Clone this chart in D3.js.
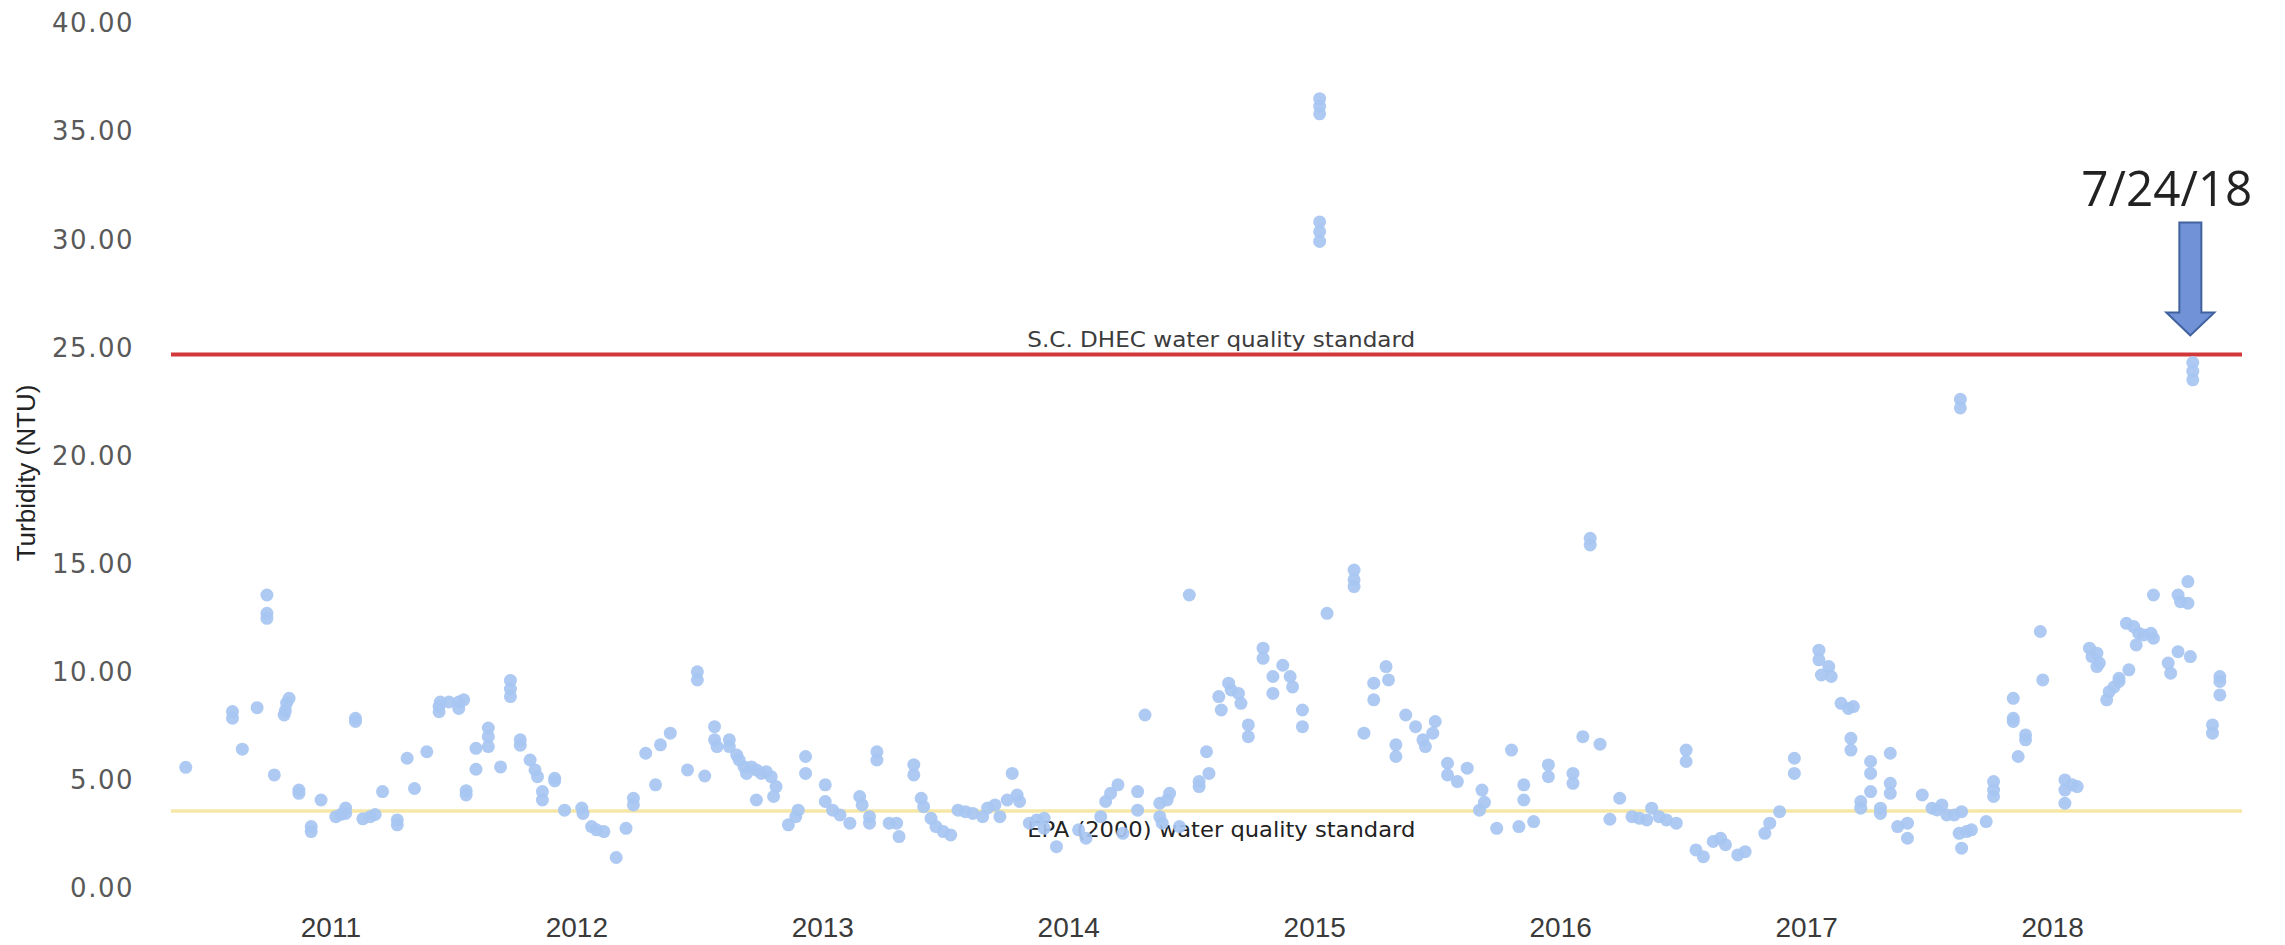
<!DOCTYPE html>
<html>
<head>
<meta charset="utf-8">
<script src="https://cdn.jsdelivr.net/npm/d3@7"></script>
<style>
  html, body { margin: 0; padding: 0; background: #fff; }
  svg { display: block; }
</style>
</head>
<body>
<svg id="chart" width="2285" height="945"></svg>
<script>
// sample dates as decimal years, turbidity in NTU
const sampleYear = [
  2010.41, 2010.60, 2010.60, 2010.64, 2010.70, 2010.74, 2010.74, 2010.74, 2010.77, 2010.81,
  2010.815, 2010.82, 2010.83, 2010.87, 2010.87, 2010.92, 2010.92, 2010.96, 2011.02, 2011.04,
  2011.06, 2011.06, 2011.10, 2011.10, 2011.13, 2011.16, 2011.18, 2011.21, 2011.27, 2011.27,
  2011.31, 2011.34, 2011.39, 2011.44, 2011.445, 2011.48, 2011.52, 2011.52, 2011.44, 2011.55,
  2011.55, 2011.54,
  2011.59, 2011.59, 2011.64, 2011.64, 2011.64, 2011.69, 2011.73, 2011.73, 2011.73, 2011.77,
  2011.77, 2011.81, 2011.83, 2011.84, 2011.86, 2011.86, 2011.91, 2011.91, 2011.95, 2012.02,
  2012.025, 2012.06, 2012.08, 2012.11, 2012.16, 2012.20, 2012.23, 2012.23, 2012.28, 2012.32,
  2012.34, 2012.38, 2012.45, 2012.49, 2012.49, 2012.52, 2012.56, 2012.56, 2012.57, 2012.62,
  2012.62, 2012.65, 2012.66, 2012.68, 2012.69, 2012.71, 2012.73, 2012.75, 2012.77, 2012.79,
  2012.81, 2012.73, 2012.80, 2012.86, 2012.89, 2012.90, 2012.93, 2012.93,
  2013.01, 2013.01, 2013.04, 2013.07, 2013.11, 2013.15, 2013.16, 2013.19, 2013.19, 2013.22,
  2013.22, 2013.27, 2013.30, 2013.31, 2013.37, 2013.37, 2013.40, 2013.41, 2013.44, 2013.46,
  2013.49, 2013.52, 2013.55, 2013.58, 2013.61, 2013.65, 2013.67, 2013.70, 2013.72, 2013.75,
  2013.77, 2013.79, 2013.80, 2013.84, 2013.87, 2013.90, 2013.90, 2013.95, 2014.04, 2014.07,
  2014.13, 2014.15, 2014.17, 2014.20, 2014.22, 2014.28, 2014.28, 2014.31,
  2014.37, 2014.40, 2014.41, 2014.37, 2014.38, 2014.45, 2014.49, 2014.53, 2014.53, 2014.57,
  2014.56, 2014.61, 2014.62, 2014.65, 2014.66, 2014.69, 2014.70, 2014.73, 2014.73, 2014.79,
  2014.79, 2014.83, 2014.83, 2014.87, 2014.90, 2014.91, 2014.95, 2014.95, 2015.02, 2015.02,
  2015.02, 2015.02, 2015.02, 2015.02, 2015.05, 2015.16, 2015.16, 2015.16, 2015.20, 2015.24,
  2015.24, 2015.29, 2015.30, 2015.33, 2015.33, 2015.37, 2015.41, 2015.44, 2015.45, 2015.49,
  2015.48, 2015.54, 2015.54, 2015.58, 2015.62, 2015.68, 2015.67,
  2015.69, 2015.74, 2015.80, 2015.83, 2015.85, 2015.85, 2015.89, 2015.95, 2015.95, 2016.05,
  2016.05, 2016.09, 2016.12, 2016.12, 2016.16, 2016.20, 2016.24, 2016.29, 2016.32, 2016.35,
  2016.37, 2016.40, 2016.43, 2016.47, 2016.51, 2016.51, 2016.55, 2016.58, 2016.62, 2016.65,
  2016.67, 2016.72, 2016.75, 2016.83, 2016.85, 2016.89, 2016.95, 2016.95, 2017.05, 2017.05,
  2017.06,
  2017.09, 2017.10, 2017.14, 2017.17, 2017.19, 2017.18, 2017.18, 2017.22, 2017.22, 2017.26,
  2017.26, 2017.26, 2017.30, 2017.30, 2017.34, 2017.34, 2017.34, 2017.37, 2017.41, 2017.41,
  2017.47, 2017.51, 2017.53, 2017.55, 2017.57, 2017.60, 2017.63, 2017.62, 2017.65, 2017.67,
  2017.63, 2017.625, 2017.625, 2017.73, 2017.76, 2017.76, 2017.76, 2017.84, 2017.84, 2017.84,
  2017.86, 2017.89, 2017.89, 2017.95, 2017.96, 2018.05, 2018.05, 2018.05, 2018.08, 2018.10,
  2018.15, 2018.16, 2018.18, 2018.19, 2018.18, 2018.22, 2018.23, 2018.25, 2018.27, 2018.27,
  2018.31, 2018.30, 2018.33, 2018.35, 2018.37, 2018.40, 2018.41, 2018.34, 2018.41, 2018.47,
  2018.48, 2018.51, 2018.56, 2018.51, 2018.52, 2018.55, 2018.55, 2018.57, 2018.57, 2018.57,
  2018.65, 2018.65, 2018.68, 2018.68, 2018.68
];

const turbidity = [
  5.58, 8.16, 7.85, 6.42, 8.34, 13.55, 12.70, 12.47, 5.23, 8.00,
  8.20, 8.55, 8.77, 4.53, 4.38, 2.84, 2.61, 4.07, 3.30, 3.40,
  3.70, 3.45, 7.85, 7.70, 3.20, 3.30, 3.40, 4.46, 3.15, 2.92,
  6.00, 4.60, 6.30, 8.40, 8.60, 8.60, 8.60, 8.30, 8.15, 4.50,
  4.30, 8.70,
  6.46, 5.49, 7.40, 7.00, 6.54, 5.60, 9.60, 9.20, 8.85, 6.85,
  6.60, 5.92, 5.46, 5.15, 4.46, 4.07, 5.07, 4.95, 3.60, 3.70,
  3.45, 2.84, 2.69, 2.61, 1.41, 2.76, 4.15, 3.84, 6.23, 4.77,
  6.62, 7.16, 5.46, 10.00, 9.62, 5.18, 7.46, 6.85, 6.54, 6.85,
  6.54, 6.15, 5.92, 5.60, 5.30, 5.60, 5.46, 5.30, 5.38, 5.15,
  4.69, 4.07, 4.23, 2.92, 3.30, 3.60, 6.08, 5.30,
  4.77, 4.00, 3.60, 3.38, 3.00, 4.23, 3.84, 3.30, 3.00, 6.30,
  5.92, 3.00, 3.00, 2.38, 5.70, 5.23, 4.15, 3.76, 3.22, 2.84,
  2.61, 2.45, 3.60, 3.53, 3.45, 3.30, 3.70, 3.84, 3.30, 4.07,
  5.30, 4.30, 4.00, 3.00, 3.15, 3.22, 2.76, 1.91, 2.69, 2.30,
  3.30, 4.00, 4.38, 4.77, 2.53, 4.46, 3.60, 8.00,
  3.92, 4.07, 4.38, 3.30, 3.00, 2.84, 13.55, 4.92, 4.69, 5.30,
  6.30, 8.85, 8.23, 9.47, 9.16, 9.00, 8.54, 7.54, 7.00, 11.09,
  10.62, 9.78, 9.00, 10.30, 9.78, 9.30, 8.23, 7.46, 36.50, 36.15,
  35.80, 30.80, 30.35, 29.90, 12.70, 14.70, 14.25, 13.94, 7.16, 9.47,
  8.70, 10.24, 9.62, 6.62, 6.08, 8.00, 7.46, 6.85, 6.54, 7.70,
  7.16, 5.77, 5.23, 4.92, 5.54, 4.53, 3.60,
  3.96, 2.76, 6.38, 2.84, 4.77, 4.07, 3.07, 5.69, 5.15, 5.30,
  4.84, 7.00, 16.17, 15.86, 6.65, 3.18, 4.15, 3.30, 3.22, 3.15,
  3.69, 3.30, 3.15, 3.00, 6.38, 5.85, 1.76, 1.45, 2.15, 2.30,
  2.00, 1.53, 1.68, 2.53, 3.00, 3.53, 6.00, 5.30, 11.00, 10.55,
  9.85,
  10.24, 9.78, 8.54, 8.30, 8.39, 6.92, 6.38, 4.00, 3.69, 5.85,
  5.30, 4.46, 3.69, 3.45, 6.23, 4.84, 4.38, 2.84, 3.00, 2.30,
  4.30, 3.69, 3.61, 3.84, 3.38, 3.38, 3.53, 2.53, 2.61, 2.69,
  1.84, 22.60, 22.20, 3.07, 4.92, 4.53, 4.23, 8.77, 7.85, 7.70,
  6.08, 7.08, 6.85, 11.86, 9.62, 5.00, 4.53, 3.92, 4.77, 4.69,
  11.09, 10.70, 10.86, 10.40, 10.24, 8.70, 9.08, 9.30, 9.55, 9.70,
  10.09, 12.24, 12.09, 11.78, 11.70, 11.78, 11.55, 11.24, 13.55, 10.40,
  9.93, 10.93, 10.70, 13.55, 13.24, 14.17, 13.17, 24.30, 23.90, 23.50,
  7.54, 7.16, 9.78, 9.55, 8.93
];

const yearTicks = [2011, 2012, 2013, 2014, 2015, 2016, 2017, 2018];
const valueTicks = [0, 5, 10, 15, 20, 25, 30, 35, 40];

const standardNames = ["S.C. DHEC water quality standard", "EPA (2000) water quality standard"];
const standardValues = [24.67, 3.56];

const markedDate = 2018.56;
const markedLabel = "7/24/18";

const svg = d3.select("#chart");

const x = d3.scaleLinear().domain([2010.35, 2018.77]).range([171, 2242]);
const y = d3.scaleLinear().domain([0, 40]).range([888, 23]);

// y axis labels
svg.append("g")
  .selectAll("text")
  .data(valueTicks)
  .join("text")
  .attr("x", 134)
  .attr("y", d => y(d))
  .attr("dy", "0.36em")
  .attr("text-anchor", "end")
  .attr("font-family", "DejaVu Sans, sans-serif")
  .attr("font-size", 26)
  .attr("letter-spacing", 1.5)
  .attr("fill", "#595959")
  .text(d => d3.format(".2f")(d));

// x axis labels
svg.append("g")
  .selectAll("text")
  .data(yearTicks)
  .join("text")
  .attr("x", d => x(d))
  .attr("y", 937)
  .attr("text-anchor", "middle")
  .attr("font-family", "Liberation Sans, Arial, sans-serif")
  .attr("font-size", 28)
  .attr("fill", "#3a3a3a")
  .text(d => d);

svg.append("text")
  .attr("transform", "translate(35,473) rotate(-90)")
  .attr("text-anchor", "middle")
  .attr("font-family", "Liberation Sans, Arial, sans-serif")
  .attr("font-size", 26)
  .attr("fill", "#222")
  .text("Turbidity (NTU)");

// standard lines
const lineColors = ["#d2383a", "#f6e7a6"];
const lineWidths = [4, 3.5];
svg.append("g")
  .selectAll("line")
  .data(standardValues)
  .join("line")
  .attr("x1", x.range()[0])
  .attr("x2", x.range()[1])
  .attr("y1", d => y(d))
  .attr("y2", d => y(d))
  .attr("stroke", (d, i) => lineColors[i])
  .attr("stroke-width", (d, i) => lineWidths[i]);

// labels for the standards
const labelOffsets = [-8, 26];
const labelColors = ["#3c3c3c", "#222"];
svg.append("g")
  .selectAll("text")
  .data(standardNames)
  .join("text")
  .attr("x", x(2014.62))
  .attr("y", (d, i) => y(standardValues[i]) + labelOffsets[i])
  .attr("text-anchor", "middle")
  .attr("font-family", "DejaVu Sans, sans-serif")
  .attr("font-size", 22)
  .attr("textLength", 388)
  .attr("lengthAdjust", "spacingAndGlyphs")
  .attr("fill", (d, i) => labelColors[i])
  .text(d => d);

// the samples
svg.append("g")
  .selectAll("circle")
  .data(sampleYear)
  .join("circle")
  .attr("cx", d => x(d))
  .attr("cy", (d, i) => y(turbidity[i]))
  .attr("r", 6.5)
  .attr("fill", "#a7c6f2")
  .attr("fill-opacity", 0.92);

// arrow at the marked date
const tipX = x(markedDate);
const tipY = y(25.55);
const arrow = d3.path();
arrow.moveTo(tipX, tipY);
arrow.lineTo(tipX - 24, tipY - 23);
arrow.lineTo(tipX - 11, tipY - 23);
arrow.lineTo(tipX - 11, tipY - 113);
arrow.lineTo(tipX + 11, tipY - 113);
arrow.lineTo(tipX + 11, tipY - 23);
arrow.lineTo(tipX + 24, tipY - 23);
arrow.closePath();

svg.append("path")
  .attr("d", arrow.toString())
  .attr("fill", "#7192d6")
  .attr("stroke", "#41629f")
  .attr("stroke-width", 2);

svg.append("text")
  .attr("x", tipX + 62)
  .attr("y", tipY - 129)
  .attr("text-anchor", "end")
  .attr("font-family", "Open Sans, sans-serif")
  .attr("font-size", 50)
  .attr("textLength", 171)
  .attr("lengthAdjust", "spacingAndGlyphs")
  .attr("fill", "#222")
  .text(markedLabel);
</script>
</body>
</html>
